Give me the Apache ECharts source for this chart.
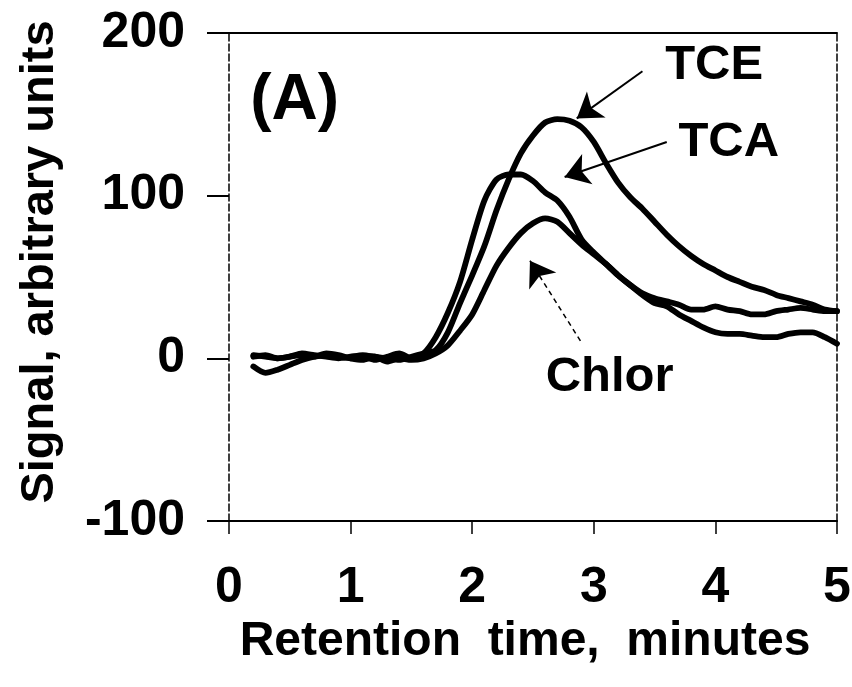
<!DOCTYPE html>
<html>
<head>
<meta charset="utf-8">
<script src="https://cdn.jsdelivr.net/npm/echarts@6/dist/echarts.min.js"></script>
<style>html,body{margin:0;padding:0;background:#fff;}#chart{width:852px;height:687px;}</style>
</head>
<body>
<div id="chart"></div>
<script>
const times = [0.2,0.3,0.4,0.5,0.6,0.7,0.8,0.9,1.0,1.1,1.2,1.3,1.4,1.5,1.6,1.7,1.8,1.9,2.0,2.1,2.2,2.3,2.4,2.5,2.6,2.7,2.8,2.9,3.0,3.1,3.2,3.3,3.4,3.5,3.6,3.7,3.8,3.9,4.0,4.1,4.2,4.3,4.4,4.5,4.6,4.7,4.8,4.9,5.0];
const tceSignal = [2,1,0,1,3,2,1,0,1,2,1,0,-1,1,3,5,16,34,51,69,91,110,126,137,145,147,146,142,133,120,108,99,92,84,76,69,63,58,54,50,47,44,42,39,37,35,33,30,29];
const tcaSignal = [-5,-9,-7,-4,-1,1,2,1,0,1,-1,1,3,0,3,13,28,47,73,97,110,113,113,109,102,97,87,73,65,58,51,45,39,34,32,27,23,19,16,15,15,14,13,13,15,16,16,13,9];
const chlorSignal = [1,2,0,1,2,1,3,2,0,-1,1,-2,0,-1,0,3,8,17,27,42,57,68,77,83,86,84,77,70,64,58,51,45,40,37,35,33,30,30,32,30,29,27,27,29,30,31,30,29,29];
const xTicks = [0,1,2,3,4,5];
const yTicks = [-100,0,100,200];
const seriesNames = ['TCE','TCA','Chlor'];

function hasFont(f){
  const c = document.createElement('canvas').getContext('2d');
  const s = 'Retention time 0123 Wmi';
  c.font = 'bold 50px monospace';
  const a = c.measureText(s).width;
  c.font = "bold 50px '" + f + "', monospace";
  const b = c.measureText(s).width;
  return Math.abs(a - b) > 1;
}
const narrow = hasFont('Liberation Sans Narrow') || hasFont('Arial Narrow');
const FONT = narrow ? "'Liberation Sans Narrow','Arial Narrow',sans-serif" : "'Liberation Sans',Arial,Helvetica,sans-serif";
const K = narrow ? 1.18 : 1;
const fs = v => Math.round(v * K);

const pairs = arr => times.map((t,i)=>[t, arr[i]]);

const chart = echarts.init(document.getElementById('chart'), null, {renderer:'canvas'});
const lineStyle = {color:'#000', width:5.8, cap:'round', join:'round'};

const option = {
  animation:false,
  backgroundColor:'#fff',
  grid:{left:229, right:15, top:33, bottom:166, containLabel:false, outerBoundsMode:'none'},
  xAxis:[{
    type:'value', min:xTicks[0], max:xTicks[xTicks.length-1], interval:1, position:'bottom',
    axisLine:{show:true, onZero:false, lineStyle:{color:'#000', width:2}},
    axisTick:{show:true, inside:false, length:13, lineStyle:{color:'#000', width:1.5}},
    axisLabel:{show:true, margin:42, color:'#000', fontFamily:FONT, fontWeight:'bold', fontSize:fs(50)},
    splitLine:{show:false},
    name:'Retention  time,  minutes', nameLocation:'middle', nameGap:96,
    nameTextStyle:{color:'#000', fontFamily:FONT, fontWeight:'bold', fontSize:fs(48), padding:[0,16,0,0]}
  },{
    type:'value', min:xTicks[0], max:xTicks[xTicks.length-1], interval:1, position:'top',
    axisLine:{show:true, onZero:false, lineStyle:{color:'#000', width:2}},
    axisTick:{show:false}, axisLabel:{show:false}, splitLine:{show:false}
  }],
  yAxis:[{
    type:'value', min:yTicks[0], max:yTicks[yTicks.length-1], interval:100, position:'left',
    axisLine:{show:true, onZero:false, lineStyle:{color:'#000', width:1.5, type:[7,3]}},
    axisTick:{show:true, inside:false, length:22, lineStyle:{color:'#000', width:2}},
    axisLabel:{show:true, margin:44, color:'#000', fontFamily:FONT, fontWeight:'bold', fontSize:fs(50)},
    splitLine:{show:false},
    name:'Signal, arbitrary units', nameLocation:'middle', nameGap:165,
    nameTextStyle:{color:'#000', fontFamily:FONT, fontWeight:'bold', fontSize:fs(47), padding:[0,0,0,30]}
  },{
    type:'value', min:yTicks[0], max:yTicks[yTicks.length-1], interval:100, position:'right',
    axisLine:{show:true, onZero:false, lineStyle:{color:'#000', width:1.5, type:[7,3]}},
    axisTick:{show:false}, axisLabel:{show:false}, splitLine:{show:false}
  }],
  series:[
    {name:seriesNames[0], type:'line', data:pairs(tceSignal), showSymbol:false, symbol:'none', smooth:0.25, lineStyle:lineStyle, silent:true,
     markLine:{silent:true, symbol:['none','arrow'], symbolSize:24, label:{show:false},
       lineStyle:{color:'#000', width:2, type:'solid'},
       data:[
         [{coord:[3.40,176.5]},{coord:[2.86,147.5]}],
         [{coord:[3.60,133]},{coord:[2.76,111.5]}],
         [{coord:[2.89,10.7], lineStyle:{type:[5,4], width:1.5}},{coord:[2.475,60]}]
       ]},
     markPoint:{silent:true, symbol:'circle', symbolSize:0,
       label:{show:true, position:'inside', color:'#000', fontFamily:FONT, fontWeight:'bold', fontSize:fs(49), formatter:p=>p.name},
       data:[
         {name:'TCE', coord:[3.99,180]},
         {name:'TCA', coord:[4.11,133]},
         {name:'Chlor', coord:[3.13,-11.5]},
         {name:'(A)', coord:[0.54,158], label:{fontSize:fs(64), fontWeight:900}}
       ]}
    },
    {name:seriesNames[1], type:'line', data:pairs(tcaSignal), showSymbol:false, symbol:'none', smooth:0.25, lineStyle:lineStyle, silent:true},
    {name:seriesNames[2], type:'line', data:pairs(chlorSignal), showSymbol:false, symbol:'none', smooth:0.25, lineStyle:lineStyle, silent:true}
  ]
};
chart.setOption(option);
</script>
</body>
</html>
